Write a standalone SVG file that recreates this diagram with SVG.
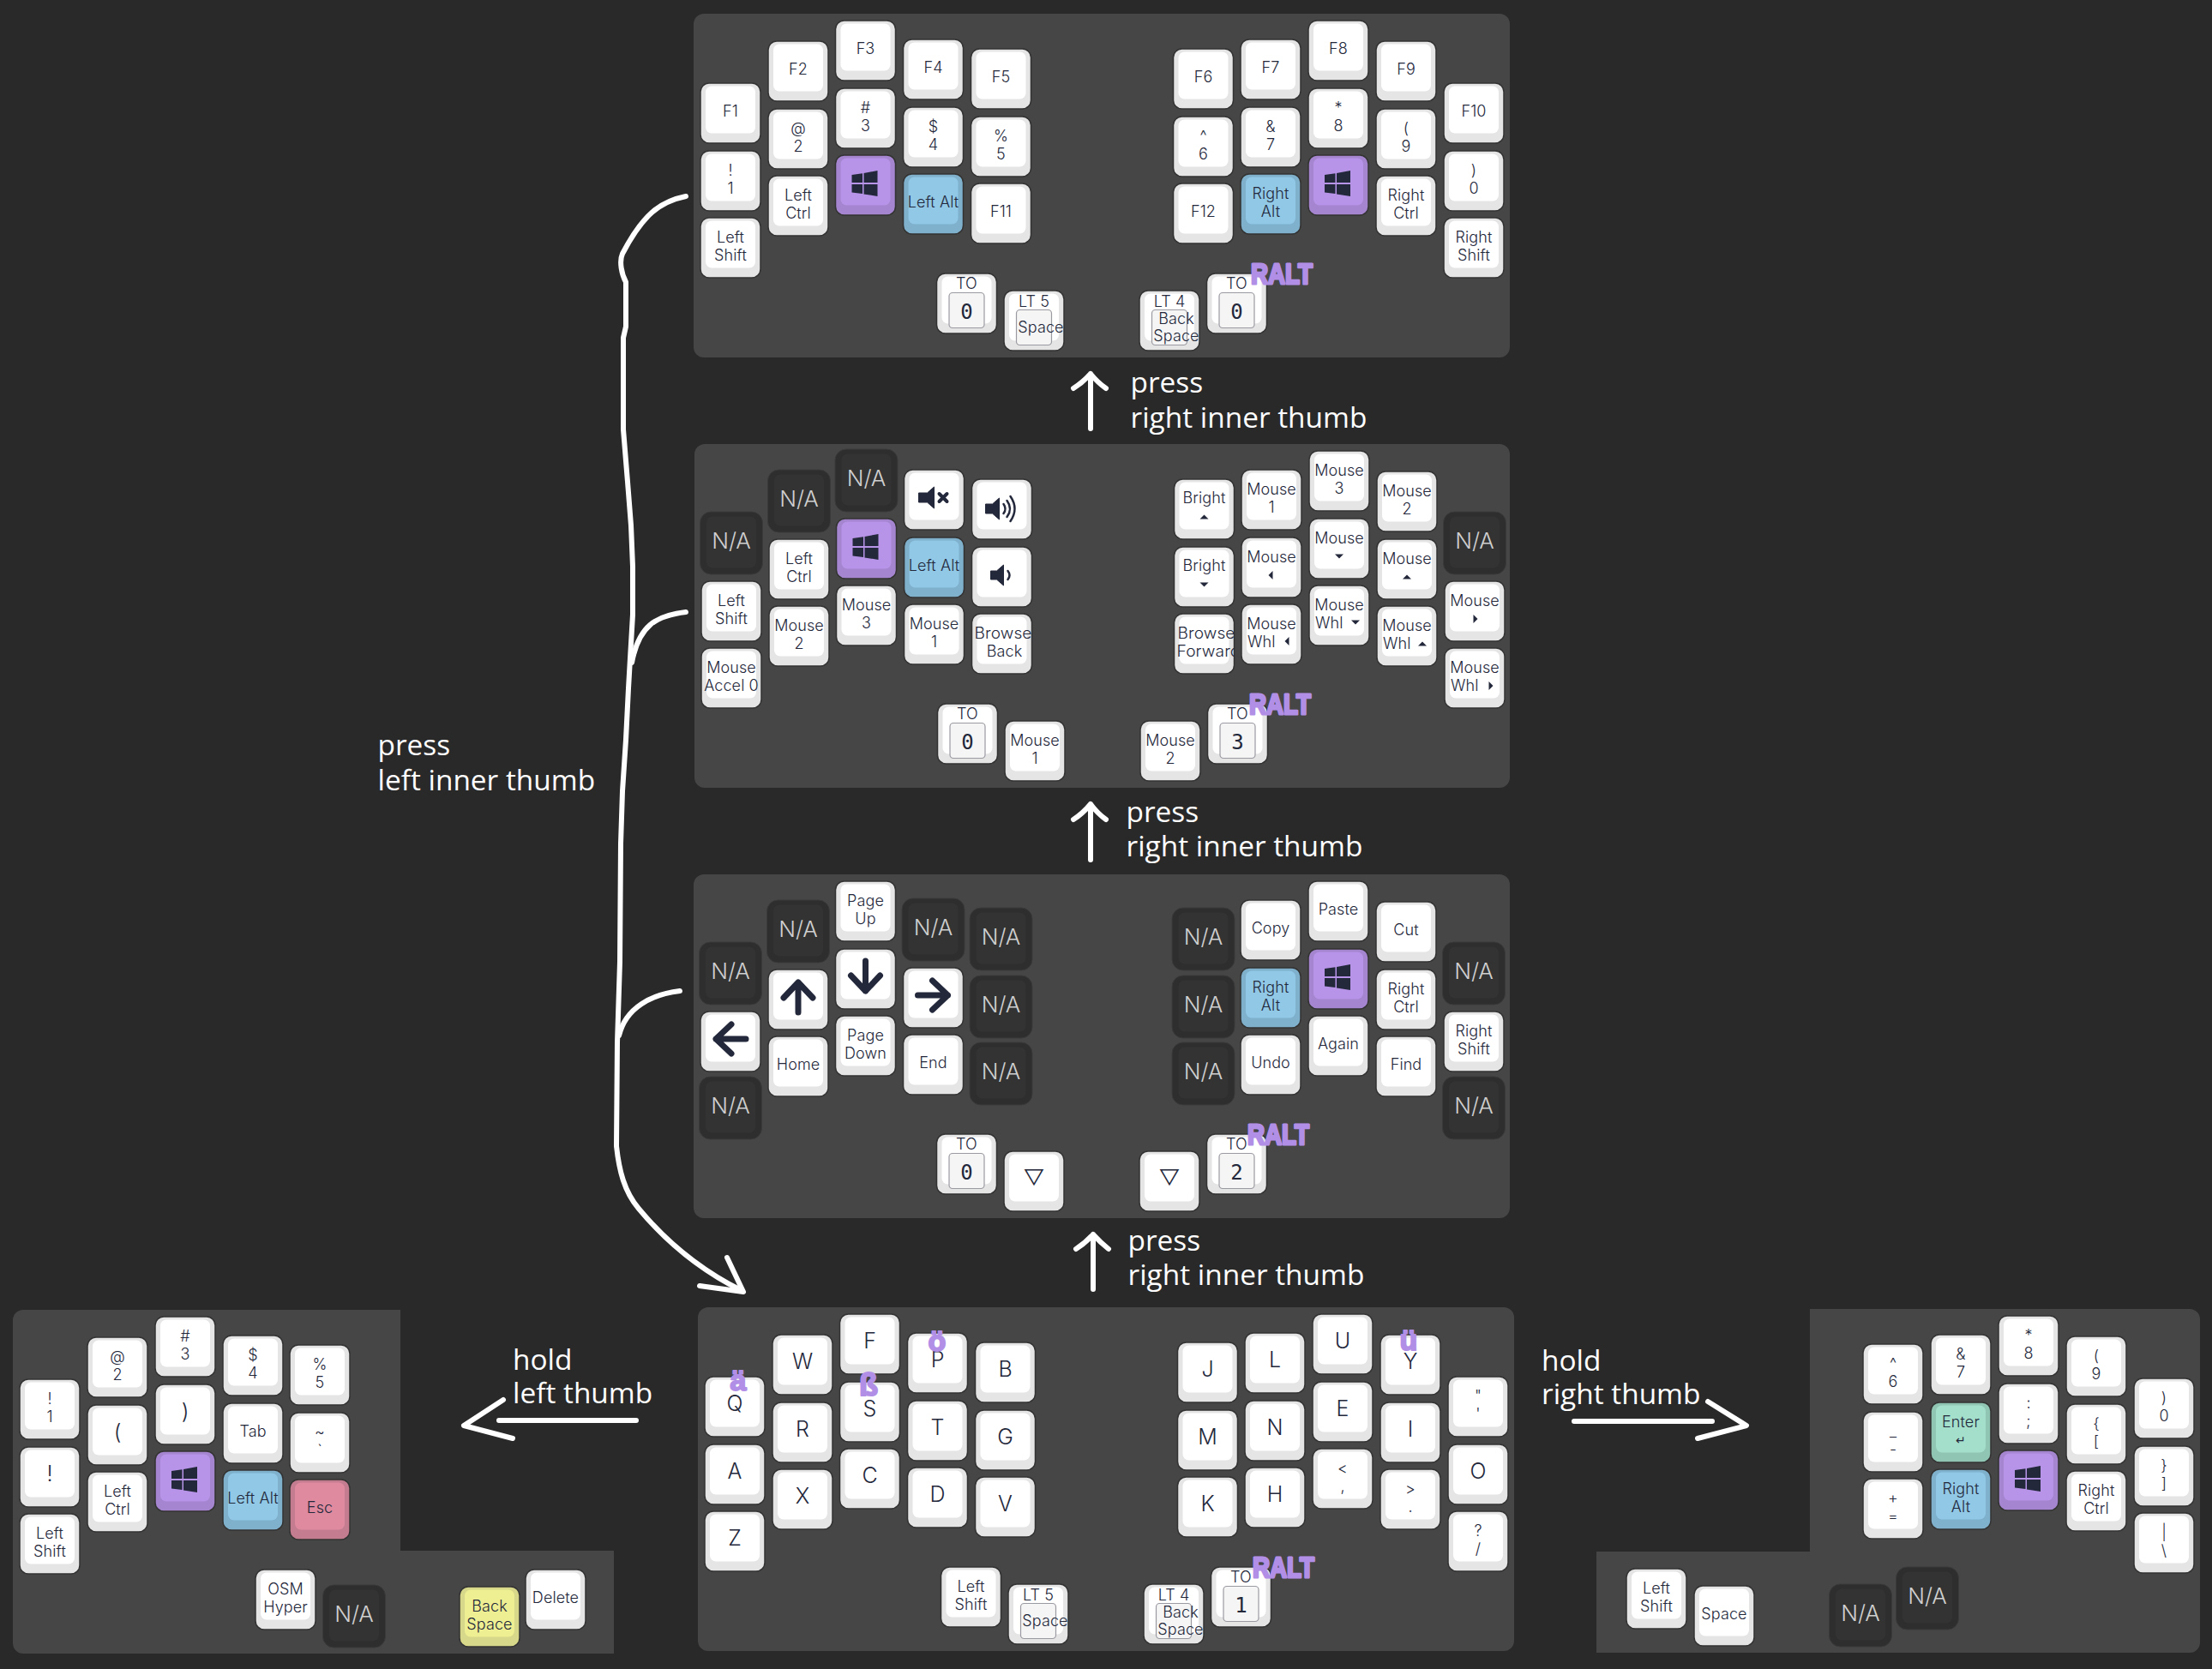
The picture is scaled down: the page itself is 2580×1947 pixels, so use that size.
<svg xmlns="http://www.w3.org/2000/svg" width="2580" height="1947" viewBox="0 0 2580 1947">
<style>
text{font-family:Inter,"Noto Sans",sans-serif;fill:#24283b;text-anchor:middle}
.l{font-size:18px;font-weight:300;letter-spacing:.1px}
.s{text-anchor:start}
.b{font-size:25px;font-weight:300}
.n{font-size:26px;font-weight:300;fill:#cfcfcf}
.m{font-family:"DejaVu Sans Mono",monospace;font-size:24px}
.h{font-family:"Open Sans","Noto Sans",sans-serif;font-size:33.4px;fill:#fff;text-anchor:start}
.r{font-family:"Liberation Sans",sans-serif;font-weight:700;font-size:33px;fill:#b28fe6;stroke:#b28fe6;stroke-width:3px;stroke-linejoin:round;text-anchor:start}
.u{font-family:"Liberation Sans",sans-serif;font-weight:700;fill:#b28fe6;stroke:#b28fe6;stroke-width:2px;stroke-linejoin:round}
.pn{fill:#464646}
.o{stroke:#333;stroke-width:1.5px}
.ic{fill:#24283b}
.ar{fill:none;stroke:#24283b;stroke-width:7px;stroke-linecap:round;stroke-linejoin:round}
.sw{fill:none;stroke:#24283b;stroke-linecap:round}
.hw{fill:none;stroke:#fff;stroke-width:6px;stroke-linecap:round;stroke-linejoin:round}
</style>
<defs>
<g id="w"><rect class="o" width="70" height="70" rx="10" fill="#e5e5e5"/><rect x="6" y="3.5" width="58" height="55" rx="7" fill="#fff"/></g>
<g id="pu"><rect class="o" width="70" height="70" rx="10" fill="#a585cf"/><rect x="6" y="3.5" width="58" height="55" rx="7" fill="#b794e8"/></g>
<g id="bl"><rect class="o" width="70" height="70" rx="10" fill="#7fb0cc"/><rect x="6" y="3.5" width="58" height="55" rx="7" fill="#90c8e6"/></g>
<g id="gr"><rect class="o" width="70" height="70" rx="10" fill="#90c4b3"/><rect x="6" y="3.5" width="58" height="55" rx="7" fill="#a3dfcb"/></g>
<g id="ye"><rect class="o" width="70" height="70" rx="10" fill="#d8d88a"/><rect x="6" y="3.5" width="58" height="55" rx="7" fill="#eeee92"/></g>
<g id="pk"><rect class="o" width="70" height="70" rx="10" fill="#c47d90"/><rect x="6" y="3.5" width="58" height="55" rx="7" fill="#df8a9f"/></g>
<g id="na"><rect x="-1.5" y="-2" width="73" height="73" rx="13" fill="#2e2e2e" stroke="#3a3a3a" stroke-width="1"/><rect x="6" y="3.5" width="58" height="60" rx="7" fill="#333"/></g>
<rect id="bx" x="14.5" y="22.5" width="41" height="41" rx="4" fill="#f5f5f5" stroke="#9a9aa2" stroke-width="1.2"/>
<g id="win" class="ic"><polygon points="19,23 31.5,21.2 31.5,32 19,32"/><polygon points="33,21 49,18 49,32 33,32"/><polygon points="19,34 31.5,34 31.5,45 19,43.4"/><polygon points="33,34 49,34 49,48 33,45.4"/></g>
<path id="aw" class="ar" d="M0,18V-17M-17,1L0,-17L17,1"/>
<polygon id="cu" class="ic" points="-5,2.5 0,-2.5 5,2.5"/>
<polygon id="cd" class="ic" points="-5,-2.5 0,2.5 5,-2.5"/>
<polygon id="cl" class="ic" points="2.5,-5 -2.5,0 2.5,5"/>
<polygon id="cr" class="ic" points="-2.5,-5 2.5,0 -2.5,5"/>
<clipPath id="kc"><rect width="70" height="70"/></clipPath>
</defs>
<rect width="2580" height="1947" fill="#292929"/>

<g id="connectors">
<path class="hw" d="M1272,500V436M1252,453Q1263,446 1272,436Q1280,446 1290,453"/>
<path class="hw" d="M1272,1003V938M1252,956Q1263,949 1272,938Q1280,949 1290,956"/>
<path class="hw" d="M1275,1504V1440M1255,1457Q1266,1450 1275,1440Q1284,1450 1293,1457"/>
<path class="hw" d="M800,229C770,235 750,250 726,296C722,305 725,320 730,329L730,381L727,394L727,501L732,562L736,613L738,661L738,717L735,768L733,803L730,863L726,923L724,984L723,1122L720,1216L719,1337C722,1365 728,1390 745,1410C770,1440 810,1478 864,1505"/>
<path class="hw" d="M800,714C765,718 745,730 737,773"/>
<path class="hw" d="M793,1156C760,1160 730,1175 722,1208"/>
<path class="hw" d="M848,1467L867,1507L816,1500"/>
<path class="hw" d="M742,1657H582M587,1633L541,1663L598,1678"/>
<path class="hw" d="M1836,1658H1997M1992,1635L2037,1663L1980,1678"/>
</g>

<g id="labels">
<text class="h" x="1318.5" y="458">press</text><text class="h" x="1318.5" y="499">right inner thumb</text>
<text class="h" x="1313.5" y="959">press</text><text class="h" x="1313.5" y="999">right inner thumb</text>
<text class="h" x="1315.5" y="1459">press</text><text class="h" x="1315.5" y="1499">right inner thumb</text>
<text class="h" x="440.5" y="881">press</text><text class="h" x="440.5" y="922">left inner thumb</text>
<text class="h" x="598" y="1598">hold</text><text class="h" x="598" y="1637">left thumb</text>
<text class="h" x="1798" y="1599">hold</text><text class="h" x="1798" y="1638">right thumb</text>
</g>

<g id="layer-function" transform="translate(809,16)">
<rect class="pn" width="952" height="401" rx="12"/>
<g id="f-f1" transform="translate(8,81)"><use href="#w"/><text class="l" x="35" y="39">F1</text></g>
<g id="f-1" transform="translate(8,160)"><use href="#w"/><text class="l" x="35" y="29">!</text><text class="l" x="35" y="50">1</text></g>
<g id="f-lshift" transform="translate(8,238)"><use href="#w"/><text class="l" x="35" y="29">Left</text><text class="l" x="35" y="50">Shift</text></g>
<g id="f-f2" transform="translate(87,32)"><use href="#w"/><text class="l" x="35" y="39">F2</text></g>
<g id="f-2" transform="translate(87,111)"><use href="#w"/><text class="l" x="35" y="29">@</text><text class="l" x="35" y="50">2</text></g>
<g id="f-lctrl" transform="translate(87,189)"><use href="#w"/><text class="l" x="35" y="29">Left</text><text class="l" x="35" y="50">Ctrl</text></g>
<g id="f-f3" transform="translate(165.5,8)"><use href="#w"/><text class="l" x="35" y="39">F3</text></g>
<g id="f-3" transform="translate(165.5,87)"><use href="#w"/><text class="l" x="35" y="29">#</text><text class="l" x="35" y="50">3</text></g>
<g id="f-lwin" transform="translate(165.5,165)"><use href="#pu"/><use href="#win"/></g>
<g id="f-f4" transform="translate(244.5,30)"><use href="#w"/><text class="l" x="35" y="39">F4</text></g>
<g id="f-4" transform="translate(244.5,109)"><use href="#w"/><text class="l" x="35" y="29">$</text><text class="l" x="35" y="50">4</text></g>
<g id="f-lalt" transform="translate(244.5,187)"><use href="#bl"/><text class="l" x="35" y="39">Left Alt</text></g>
<g id="f-f5" transform="translate(323.5,41)"><use href="#w"/><text class="l" x="35" y="39">F5</text></g>
<g id="f-5" transform="translate(323.5,120)"><use href="#w"/><text class="l" x="35" y="29">%</text><text class="l" x="35" y="50">5</text></g>
<g id="f-f11" transform="translate(323.5,198)"><use href="#w"/><text class="l" x="35" y="39">F11</text></g>
<g id="f-f6" transform="translate(559.5,41)"><use href="#w"/><text class="l" x="35" y="39">F6</text></g>
<g id="f-6" transform="translate(559.5,120)"><use href="#w"/><text class="l" x="35" y="29">^</text><text class="l" x="35" y="50">6</text></g>
<g id="f-f12" transform="translate(559.5,198)"><use href="#w"/><text class="l" x="35" y="39">F12</text></g>
<g id="f-f7" transform="translate(638,30)"><use href="#w"/><text class="l" x="35" y="39">F7</text></g>
<g id="f-7" transform="translate(638,109)"><use href="#w"/><text class="l" x="35" y="29">&amp;</text><text class="l" x="35" y="50">7</text></g>
<g id="f-ralt" transform="translate(638,187)"><use href="#bl"/><text class="l" x="35" y="29">Right</text><text class="l" x="35" y="50">Alt</text></g>
<g id="f-f8" transform="translate(717,8)"><use href="#w"/><text class="l" x="35" y="39">F8</text></g>
<g id="f-8" transform="translate(717,87)"><use href="#w"/><text class="l" x="35" y="29">*</text><text class="l" x="35" y="50">8</text></g>
<g id="f-rwin" transform="translate(717,165)"><use href="#pu"/><use href="#win"/></g>
<g id="f-f9" transform="translate(796,32)"><use href="#w"/><text class="l" x="35" y="39">F9</text></g>
<g id="f-9" transform="translate(796,111)"><use href="#w"/><text class="l" x="35" y="29">(</text><text class="l" x="35" y="50">9</text></g>
<g id="f-rctrl" transform="translate(796,189)"><use href="#w"/><text class="l" x="35" y="29">Right</text><text class="l" x="35" y="50">Ctrl</text></g>
<g id="f-f10" transform="translate(875,81)"><use href="#w"/><text class="l" x="35" y="39">F10</text></g>
<g id="f-0" transform="translate(875,160)"><use href="#w"/><text class="l" x="35" y="29">)</text><text class="l" x="35" y="50">0</text></g>
<g id="f-rshift" transform="translate(875,238)"><use href="#w"/><text class="l" x="35" y="29">Right</text><text class="l" x="35" y="50">Shift</text></g>
<g id="f-to0a" transform="translate(283.5,303)"><use href="#w"/><use href="#bx"/><text class="l" x="35" y="18">TO</text><text class="m" x="35" y="53">0</text></g>
<g id="f-lt5" transform="translate(362,323)"><use href="#w"/><use href="#bx"/><text class="l" x="35" y="19">LT 5</text><text class="l" x="43" y="49">Space</text></g>
<g id="f-lt4" transform="translate(520,323)"><use href="#w"/><use href="#bx"/><text class="l" x="35" y="19">LT 4</text><text class="l" x="43" y="39">Back</text><text class="l" x="43" y="59">Space</text></g>
<g id="f-to0b" transform="translate(598.5,303)"><use href="#w"/><use href="#bx"/><text class="l" x="35" y="18">TO</text><text class="m" x="35" y="53">0</text></g>
<text id="f-ralt-note" class="r" x="650" y="315" textLength="72" lengthAdjust="spacingAndGlyphs">RALT</text>
</g>

<g id="layer-mouse" transform="translate(810,518)">
<rect class="pn" width="951" height="401" rx="12"/>
<g id="m-na1" transform="translate(8,81)"><use href="#na"/><text class="n" x="35" y="41">N/A</text></g>
<g id="m-lshift" transform="translate(8,160)"><use href="#w"/><text class="l" x="35" y="29">Left</text><text class="l" x="35" y="50">Shift</text></g>
<g id="m-accel" transform="translate(8,238)"><use href="#w"/><text class="l" x="35" y="29">Mouse</text><text class="l" x="35" y="50">Accel 0</text></g>
<g id="m-na2" transform="translate(87,32)"><use href="#na"/><text class="n" x="35" y="41">N/A</text></g>
<g id="m-lctrl" transform="translate(87,111)"><use href="#w"/><text class="l" x="35" y="29">Left</text><text class="l" x="35" y="50">Ctrl</text></g>
<g id="m-b2l" transform="translate(87,189)"><use href="#w"/><text class="l" x="35" y="29">Mouse</text><text class="l" x="35" y="50">2</text></g>
<g id="m-na3" transform="translate(165.5,8)"><use href="#na"/><text class="n" x="35" y="41">N/A</text></g>
<g id="m-lwin" transform="translate(165.5,87)"><use href="#pu"/><use href="#win"/></g>
<g id="m-b3l" transform="translate(165.5,165)"><use href="#w"/><text class="l" x="35" y="29">Mouse</text><text class="l" x="35" y="50">3</text></g>
<g id="m-mute" transform="translate(244.5,30)"><use href="#w"/><path class="ic" stroke="#24283b" stroke-linejoin="round" d="M35,20V45L27,38H17V27H27Z"/><path class="sw" stroke-width="4" d="M41,28L50,37M50,28L41,37"/></g>
<g id="m-lalt" transform="translate(244.5,109)"><use href="#bl"/><text class="l" x="35" y="39">Left Alt</text></g>
<g id="m-b1l" transform="translate(244.5,187)"><use href="#w"/><text class="l" x="35" y="29">Mouse</text><text class="l" x="35" y="50">1</text></g>
<g id="m-volup" transform="translate(323.5,41)"><use href="#w"/><path class="ic" stroke="#24283b" stroke-linejoin="round" d="M32,22V47L24,40H16V29H24Z"/><path class="sw" stroke-width="2.5" d="M37,29Q41,34.5 37,40M41,25Q48,34.5 41,44M45,20Q55,34.5 45,49"/></g>
<g id="m-voldn" transform="translate(323.5,120)"><use href="#w"/><path class="ic" stroke="#24283b" stroke-linejoin="round" d="M37,21V45L29,38H22V28H29Z"/><path class="sw" stroke-width="2.5" d="M42,28Q46,33 42,38"/></g>
<g id="m-bback" transform="translate(323.5,198)"><use href="#w"/><g clip-path="url(#kc)"><text class="l s" x="3" y="29" textLength="74" lengthAdjust="spacingAndGlyphs">Browser</text><text class="l" x="38" y="50">Back</text></g></g>
<g id="m-brup" transform="translate(559.5,41)"><use href="#w"/><text class="l" x="35" y="28">Bright</text><use href="#cu" x="35" y="44"/></g>
<g id="m-brdn" transform="translate(559.5,120)"><use href="#w"/><text class="l" x="35" y="28">Bright</text><use href="#cd" x="35" y="44"/></g>
<g id="m-bfwd" transform="translate(559.5,198)"><use href="#w"/><g clip-path="url(#kc)"><text class="l s" x="4" y="29" textLength="74" lengthAdjust="spacingAndGlyphs">Browser</text><text class="l s" x="3" y="50" textLength="74" lengthAdjust="spacingAndGlyphs">Forward</text></g></g>
<g id="m-b1r" transform="translate(638,30)"><use href="#w"/><text class="l" x="35" y="29">Mouse</text><text class="l" x="35" y="50">1</text></g>
<g id="m-ml" transform="translate(638,109)"><use href="#w"/><text class="l" x="35" y="29">Mouse</text><use href="#cl" x="34" y="44"/></g>
<g id="m-wl" transform="translate(638,187)"><use href="#w"/><text class="l" x="35" y="29">Mouse</text><text class="l s" x="7" y="50">Whl</text><use href="#cl" x="53" y="43"/></g>
<g id="m-b3r" transform="translate(717,8)"><use href="#w"/><text class="l" x="35" y="29">Mouse</text><text class="l" x="35" y="50">3</text></g>
<g id="m-md" transform="translate(717,87)"><use href="#w"/><text class="l" x="35" y="29">Mouse</text><use href="#cd" x="35" y="44"/></g>
<g id="m-wd" transform="translate(717,165)"><use href="#w"/><text class="l" x="35" y="29">Mouse</text><text class="l s" x="7" y="50">Whl</text><use href="#cd" x="54" y="43"/></g>
<g id="m-b2r" transform="translate(796,32)"><use href="#w"/><text class="l" x="35" y="29">Mouse</text><text class="l" x="35" y="50">2</text></g>
<g id="m-mu" transform="translate(796,111)"><use href="#w"/><text class="l" x="35" y="29">Mouse</text><use href="#cu" x="35" y="44"/></g>
<g id="m-wu" transform="translate(796,189)"><use href="#w"/><text class="l" x="35" y="29">Mouse</text><text class="l s" x="7" y="50">Whl</text><use href="#cu" x="53" y="44"/></g>
<g id="m-na4" transform="translate(875,81)"><use href="#na"/><text class="n" x="35" y="41">N/A</text></g>
<g id="m-mr" transform="translate(875,160)"><use href="#w"/><text class="l" x="35" y="29">Mouse</text><use href="#cr" x="36" y="44"/></g>
<g id="m-wr" transform="translate(875,238)"><use href="#w"/><text class="l" x="35" y="29">Mouse</text><text class="l s" x="7" y="50">Whl</text><use href="#cr" x="54" y="44"/></g>
<g id="m-to0" transform="translate(283.5,303)"><use href="#w"/><use href="#bx"/><text class="l" x="35" y="18">TO</text><text class="m" x="35" y="53">0</text></g>
<g id="m-b1t" transform="translate(362,323)"><use href="#w"/><text class="l" x="35" y="29">Mouse</text><text class="l" x="35" y="50">1</text></g>
<g id="m-b2t" transform="translate(520,323)"><use href="#w"/><text class="l" x="35" y="29">Mouse</text><text class="l" x="35" y="50">2</text></g>
<g id="m-to3" transform="translate(598.5,303)"><use href="#w"/><use href="#bx"/><text class="l" x="35" y="18">TO</text><text class="m" x="35" y="53">3</text></g>
<text id="m-ralt-note" class="r" x="647" y="315" textLength="72" lengthAdjust="spacingAndGlyphs">RALT</text>
</g>

<g id="layer-nav" transform="translate(809,1020)">
<rect class="pn" width="952" height="401" rx="12"/>
<g id="n-na1" transform="translate(8,81)"><use href="#na"/><text class="n" x="35" y="41">N/A</text></g>
<g id="n-left" transform="translate(8,160)"><use href="#w"/><use href="#aw" transform="translate(35,32) rotate(-90)"/></g>
<g id="n-na2" transform="translate(8,238)"><use href="#na"/><text class="n" x="35" y="41">N/A</text></g>
<g id="n-na3" transform="translate(87,32)"><use href="#na"/><text class="n" x="35" y="41">N/A</text></g>
<g id="n-up" transform="translate(87,111)"><use href="#w"/><use href="#aw" transform="translate(35,32)"/></g>
<g id="n-home" transform="translate(87,189)"><use href="#w"/><text class="l" x="35" y="39">Home</text></g>
<g id="n-pgup" transform="translate(165.5,8)"><use href="#w"/><text class="l" x="35" y="29">Page</text><text class="l" x="35" y="50">Up</text></g>
<g id="n-down" transform="translate(165.5,87)"><use href="#w"/><use href="#aw" transform="translate(35,32) rotate(180)"/></g>
<g id="n-pgdn" transform="translate(165.5,165)"><use href="#w"/><text class="l" x="35" y="29">Page</text><text class="l" x="35" y="50">Down</text></g>
<g id="n-na4" transform="translate(244.5,30)"><use href="#na"/><text class="n" x="35" y="41">N/A</text></g>
<g id="n-right" transform="translate(244.5,109)"><use href="#w"/><use href="#aw" transform="translate(35,32) rotate(90)"/></g>
<g id="n-end" transform="translate(244.5,187)"><use href="#w"/><text class="l" x="35" y="39">End</text></g>
<g id="n-na5" transform="translate(323.5,41)"><use href="#na"/><text class="n" x="35" y="41">N/A</text></g>
<g id="n-na6" transform="translate(323.5,120)"><use href="#na"/><text class="n" x="35" y="41">N/A</text></g>
<g id="n-na7" transform="translate(323.5,198)"><use href="#na"/><text class="n" x="35" y="41">N/A</text></g>
<g id="n-na8" transform="translate(559.5,41)"><use href="#na"/><text class="n" x="35" y="41">N/A</text></g>
<g id="n-na9" transform="translate(559.5,120)"><use href="#na"/><text class="n" x="35" y="41">N/A</text></g>
<g id="n-na10" transform="translate(559.5,198)"><use href="#na"/><text class="n" x="35" y="41">N/A</text></g>
<g id="n-copy" transform="translate(638,30)"><use href="#w"/><text class="l" x="35" y="39">Copy</text></g>
<g id="n-ralt" transform="translate(638,109)"><use href="#bl"/><text class="l" x="35" y="29">Right</text><text class="l" x="35" y="50">Alt</text></g>
<g id="n-undo" transform="translate(638,187)"><use href="#w"/><text class="l" x="35" y="39">Undo</text></g>
<g id="n-paste" transform="translate(717,8)"><use href="#w"/><text class="l" x="35" y="39">Paste</text></g>
<g id="n-rwin" transform="translate(717,87)"><use href="#pu"/><use href="#win"/></g>
<g id="n-again" transform="translate(717,165)"><use href="#w"/><text class="l" x="35" y="39">Again</text></g>
<g id="n-cut" transform="translate(796,32)"><use href="#w"/><text class="l" x="35" y="39">Cut</text></g>
<g id="n-rctrl" transform="translate(796,111)"><use href="#w"/><text class="l" x="35" y="29">Right</text><text class="l" x="35" y="50">Ctrl</text></g>
<g id="n-find" transform="translate(796,189)"><use href="#w"/><text class="l" x="35" y="39">Find</text></g>
<g id="n-na11" transform="translate(875,81)"><use href="#na"/><text class="n" x="35" y="41">N/A</text></g>
<g id="n-rshift" transform="translate(875,160)"><use href="#w"/><text class="l" x="35" y="29">Right</text><text class="l" x="35" y="50">Shift</text></g>
<g id="n-na12" transform="translate(875,238)"><use href="#na"/><text class="n" x="35" y="41">N/A</text></g>
<g id="n-to0" transform="translate(283.5,303)"><use href="#w"/><use href="#bx"/><text class="l" x="35" y="18">TO</text><text class="m" x="35" y="53">0</text></g>
<g id="n-tr1" transform="translate(362,323)"><use href="#w"/><text class="b" x="35" y="40">▽</text></g>
<g id="n-tr2" transform="translate(520,323)"><use href="#w"/><text class="b" x="35" y="40">▽</text></g>
<g id="n-to2" transform="translate(598.5,303)"><use href="#w"/><use href="#bx"/><text class="l" x="35" y="18">TO</text><text class="m" x="35" y="53">2</text></g>
<text id="n-ralt-note" class="r" x="646" y="315" textLength="72" lengthAdjust="spacingAndGlyphs">RALT</text>
</g>

<g id="layer-base" transform="translate(814,1525)">
<rect class="pn" width="952" height="401" rx="12"/>
<g id="b-q" transform="translate(8,81)"><use href="#w"/><text class="b" x="35" y="40">Q</text></g>
<g id="b-a" transform="translate(8,160)"><use href="#w"/><text class="b" x="35" y="40">A</text></g>
<g id="b-z" transform="translate(8,238)"><use href="#w"/><text class="b" x="35" y="40">Z</text></g>
<g id="b-w" transform="translate(87,32)"><use href="#w"/><text class="b" x="35" y="40">W</text></g>
<g id="b-r" transform="translate(87,111)"><use href="#w"/><text class="b" x="35" y="40">R</text></g>
<g id="b-x" transform="translate(87,189)"><use href="#w"/><text class="b" x="35" y="40">X</text></g>
<g id="b-f" transform="translate(165.5,8)"><use href="#w"/><text class="b" x="35" y="40">F</text></g>
<g id="b-s" transform="translate(165.5,87)"><use href="#w"/><text class="b" x="35" y="40">S</text></g>
<g id="b-c" transform="translate(165.5,165)"><use href="#w"/><text class="b" x="35" y="40">C</text></g>
<g id="b-p" transform="translate(244.5,30)"><use href="#w"/><text class="b" x="35" y="40">P</text></g>
<g id="b-t" transform="translate(244.5,109)"><use href="#w"/><text class="b" x="35" y="40">T</text></g>
<g id="b-d" transform="translate(244.5,187)"><use href="#w"/><text class="b" x="35" y="40">D</text></g>
<g id="b-b" transform="translate(323.5,41)"><use href="#w"/><text class="b" x="35" y="40">B</text></g>
<g id="b-g" transform="translate(323.5,120)"><use href="#w"/><text class="b" x="35" y="40">G</text></g>
<g id="b-v" transform="translate(323.5,198)"><use href="#w"/><text class="b" x="35" y="40">V</text></g>
<g id="b-j" transform="translate(559.5,41)"><use href="#w"/><text class="b" x="35" y="40">J</text></g>
<g id="b-m" transform="translate(559.5,120)"><use href="#w"/><text class="b" x="35" y="40">M</text></g>
<g id="b-k" transform="translate(559.5,198)"><use href="#w"/><text class="b" x="35" y="40">K</text></g>
<g id="b-l" transform="translate(638,30)"><use href="#w"/><text class="b" x="35" y="40">L</text></g>
<g id="b-n" transform="translate(638,109)"><use href="#w"/><text class="b" x="35" y="40">N</text></g>
<g id="b-h" transform="translate(638,187)"><use href="#w"/><text class="b" x="35" y="40">H</text></g>
<g id="b-u" transform="translate(717,8)"><use href="#w"/><text class="b" x="35" y="40">U</text></g>
<g id="b-e" transform="translate(717,87)"><use href="#w"/><text class="b" x="35" y="40">E</text></g>
<g id="b-comma" transform="translate(717,165)"><use href="#w"/><text class="l" x="35" y="29">&lt;</text><text class="l" x="35" y="50">,</text></g>
<g id="b-y" transform="translate(796,32)"><use href="#w"/><text class="b" x="35" y="40">Y</text></g>
<g id="b-i" transform="translate(796,111)"><use href="#w"/><text class="b" x="35" y="40">I</text></g>
<g id="b-dot" transform="translate(796,189)"><use href="#w"/><text class="l" x="35" y="29">&gt;</text><text class="l" x="35" y="50">.</text></g>
<g id="b-quote" transform="translate(875,81)"><use href="#w"/><text class="l" x="35" y="29">"</text><text class="l" x="35" y="50">'</text></g>
<g id="b-o" transform="translate(875,160)"><use href="#w"/><text class="b" x="35" y="40">O</text></g>
<g id="b-slash" transform="translate(875,238)"><use href="#w"/><text class="l" x="35" y="29">?</text><text class="l" x="35" y="50">/</text></g>
<g id="b-lshift" transform="translate(283.5,303)"><use href="#w"/><text class="l" x="35" y="29">Left</text><text class="l" x="35" y="50">Shift</text></g>
<g id="b-lt5" transform="translate(362,323)"><use href="#w"/><use href="#bx"/><text class="l" x="35" y="19">LT 5</text><text class="l" x="43" y="49">Space</text></g>
<g id="b-lt4" transform="translate(520,323)"><use href="#w"/><use href="#bx"/><text class="l" x="35" y="19">LT 4</text><text class="l" x="43" y="39">Back</text><text class="l" x="43" y="59">Space</text></g>
<g id="b-to1" transform="translate(598.5,303)"><use href="#w"/><use href="#bx"/><text class="l" x="35" y="18">TO</text><text class="m" x="35" y="53">1</text></g>
<text id="b-ralt-note" class="r" x="647" y="315" textLength="72" lengthAdjust="spacingAndGlyphs">RALT</text>
<text id="b-ae" class="u" x="47" y="97" font-size="34">ä</text>
<text id="b-oe" class="u" x="279" y="51" font-size="34">ö</text>
<text id="b-ue" class="u" x="829" y="50" font-size="34">ü</text>
<text id="b-ss" class="u" x="199" y="103" font-size="36">ß</text>
</g>

<g id="layer-symbols-left" transform="translate(15,1528)">
<path class="pn" d="M12,0H452V281H701V401H12A12,12 0 0 1 0,389V12A12,12 0 0 1 12,0Z"/>
<g id="l-1" transform="translate(8,81)"><use href="#w"/><text class="l" x="35" y="29">!</text><text class="l" x="35" y="50">1</text></g>
<g id="l-excl" transform="translate(8,160)"><use href="#w"/><text class="b" x="35" y="40">!</text></g>
<g id="l-lshift" transform="translate(8,238)"><use href="#w"/><text class="l" x="35" y="29">Left</text><text class="l" x="35" y="50">Shift</text></g>
<g id="l-2" transform="translate(87,32)"><use href="#w"/><text class="l" x="35" y="29">@</text><text class="l" x="35" y="50">2</text></g>
<g id="l-paren" transform="translate(87,111)"><use href="#w"/><text class="b" x="35" y="40">(</text></g>
<g id="l-lctrl" transform="translate(87,189)"><use href="#w"/><text class="l" x="35" y="29">Left</text><text class="l" x="35" y="50">Ctrl</text></g>
<g id="l-3" transform="translate(166,8)"><use href="#w"/><text class="l" x="35" y="29">#</text><text class="l" x="35" y="50">3</text></g>
<g id="l-rparen" transform="translate(166,87)"><use href="#w"/><text class="b" x="35" y="40">)</text></g>
<g id="l-win" transform="translate(166,165)"><use href="#pu"/><use href="#win"/></g>
<g id="l-4" transform="translate(245,30)"><use href="#w"/><text class="l" x="35" y="29">$</text><text class="l" x="35" y="50">4</text></g>
<g id="l-tab" transform="translate(245,109)"><use href="#w"/><text class="l" x="35" y="39">Tab</text></g>
<g id="l-lalt" transform="translate(245,187)"><use href="#bl"/><text class="l" x="35" y="39">Left Alt</text></g>
<g id="l-5" transform="translate(323,41)"><use href="#w"/><text class="l" x="35" y="29">%</text><text class="l" x="35" y="50">5</text></g>
<g id="l-tilde" transform="translate(323,120)"><use href="#w"/><text class="l" x="35" y="29">~</text><text class="l" x="35" y="50">`</text></g>
<g id="l-esc" transform="translate(323,198)"><use href="#pk"/><text class="l" x="35" y="39">Esc</text></g>
<g id="l-osm" transform="translate(283,303)"><use href="#w"/><text class="l" x="35" y="29">OSM</text><text class="l" x="35" y="50">Hyper</text></g>
<g id="l-na" transform="translate(363,323)"><use href="#na"/><text class="n" x="35" y="41">N/A</text></g>
<g id="l-bksp" transform="translate(521,323)"><use href="#ye"/><text class="l" x="35" y="29">Back</text><text class="l" x="35" y="50">Space</text></g>
<g id="l-del" transform="translate(598,303)"><use href="#w"/><text class="l" x="35" y="39">Delete</text></g>
</g>

<g id="layer-symbols-right" transform="translate(1613,1527)">
<path class="pn" d="M498,0H941A12,12 0 0 1 953,12V389A12,12 0 0 1 941,401H249V283H498Z"/>
<g id="r-6" transform="translate(560,41)"><use href="#w"/><text class="l" x="35" y="29">^</text><text class="l" x="35" y="50">6</text></g>
<g id="r-minus" transform="translate(560,120)"><use href="#w"/><text class="l" x="35" y="29">_</text><text class="l" x="35" y="50">-</text></g>
<g id="r-eq" transform="translate(560,198)"><use href="#w"/><text class="l" x="35" y="29">+</text><text class="l" x="35" y="50">=</text></g>
<g id="r-7" transform="translate(639,30)"><use href="#w"/><text class="l" x="35" y="29">&amp;</text><text class="l" x="35" y="50">7</text></g>
<g id="r-enter" transform="translate(639,109)"><use href="#gr"/><text class="l" x="35" y="29">Enter</text><text class="l" x="35" y="49" style="font-family:'DejaVu Sans',sans-serif;font-size:14px">↵</text></g>
<g id="r-ralt" transform="translate(639,187)"><use href="#bl"/><text class="l" x="35" y="29">Right</text><text class="l" x="35" y="50">Alt</text></g>
<g id="r-8" transform="translate(718,8)"><use href="#w"/><text class="l" x="35" y="29">*</text><text class="l" x="35" y="50">8</text></g>
<g id="r-semi" transform="translate(718,87)"><use href="#w"/><text class="l" x="35" y="29">:</text><text class="l" x="35" y="50">;</text></g>
<g id="r-win" transform="translate(718,165)"><use href="#pu"/><use href="#win"/></g>
<g id="r-9" transform="translate(797,32)"><use href="#w"/><text class="l" x="35" y="29">(</text><text class="l" x="35" y="50">9</text></g>
<g id="r-brace" transform="translate(797,111)"><use href="#w"/><text class="l" x="35" y="29">{</text><text class="l" x="35" y="50">[</text></g>
<g id="r-rctrl" transform="translate(797,189)"><use href="#w"/><text class="l" x="35" y="29">Right</text><text class="l" x="35" y="50">Ctrl</text></g>
<g id="r-0" transform="translate(876,81)"><use href="#w"/><text class="l" x="35" y="29">)</text><text class="l" x="35" y="50">0</text></g>
<g id="r-rbrace" transform="translate(876,160)"><use href="#w"/><text class="l" x="35" y="29">}</text><text class="l" x="35" y="50">]</text></g>
<g id="r-pipe" transform="translate(876,238)"><use href="#w"/><text class="l" x="35" y="29">|</text><text class="l" x="35" y="50">\</text></g>
<g id="r-lshift" transform="translate(284,303)"><use href="#w"/><text class="l" x="35" y="29">Left</text><text class="l" x="35" y="50">Shift</text></g>
<g id="r-space" transform="translate(363,323)"><use href="#w"/><text class="l" x="35" y="39">Space</text></g>
<g id="r-na1" transform="translate(522,323)"><use href="#na"/><text class="n" x="35" y="41">N/A</text></g>
<g id="r-na2" transform="translate(600,303)"><use href="#na"/><text class="n" x="35" y="41">N/A</text></g>
</g>
</svg>
